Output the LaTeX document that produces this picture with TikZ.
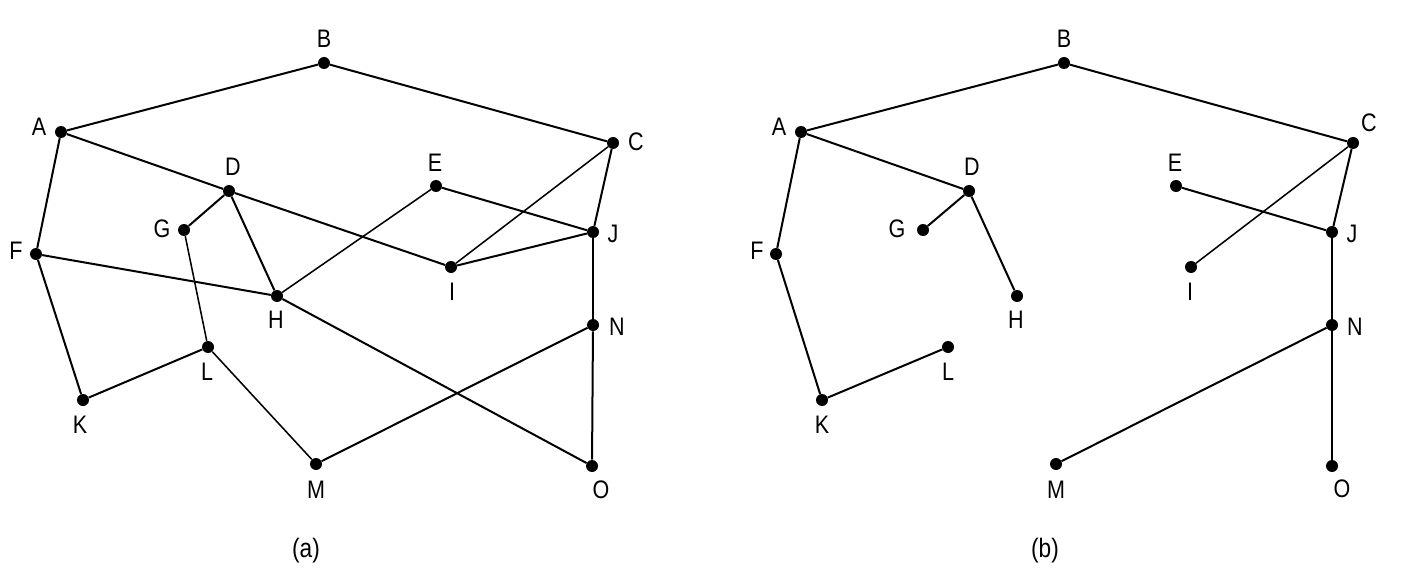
\documentclass[tikz,border=0pt]{standalone}
\usepackage{fontspec}
\setmainfont{Liberation Sans}[FakeStretch=0.85]
\begin{document}
\begin{tikzpicture}[x=0.75pt,y=-0.75pt,
  dot/.style={circle,fill=black,inner sep=0pt,minimum size=9pt},
  lbl/.style={inner sep=0pt,font=\fontsize{19}{21}\selectfont},
  captxt/.style={inner sep=0pt,font=\fontsize{20}{22}\selectfont},
  edge/.style={line width=1.5pt},
  thin edge/.style={line width=1.15pt}]
\useasboundingbox (0,0) rectangle (1420,588);
\fill[white] (0,0) rectangle (1420,588);
% ---------- (a) ----------
\foreach \n/\x/\y/\lx/\ly in {A/61/132/39/127, B/324/63/324/39, C/613/143/636/142,
  D/229/191/233/167, E/436/186/435/163, G/184/230/162/229, J/593/232/613/234,
  F/36/254/16/251, I/451/267/452/292, H/277/296/276/320, N/593/325/617/327,
  L/208/347/207/372, K/83/400/80/425, M/316/464/316/490, O/592/466/601/490}
{
  \node[dot] (a\n) at (\x,\y) {};
  \node[lbl] (la\n) at (\lx,\ly) {\n};
}
\foreach \u/\v in {A/B, B/C, A/F, A/D, D/I, D/G, D/H, F/H, F/K, K/L, H/O, E/J, C/J, I/J, J/N, N/O, N/M}
  \draw[edge] (a\u) -- (a\v);
\foreach \u/\v in {G/L, L/M, H/E, C/I}
  \draw[thin edge] (a\u) -- (a\v);
\node[captxt] (capa) at (306,551) {(a)};
% ---------- (b) ----------
\foreach \n/\x/\y/\lx/\ly in {A/801/132/779/127, B/1064/63/1064/39, C/1353/143/1369/123,
  D/969/191/972/167, E/1176/186/1175/163, G/923/230/897/229, J/1332/232/1352/234,
  F/776/254/757/251, I/1191/267/1190/292, H/1017/296/1016/320, N/1332/325/1355/327,
  L/948/347/948/372, K/822/400/822/425, M/1056/464/1056/490, O/1332/466/1342/489}
{
  \node[dot] (b\n) at (\x,\y) {};
  \node[lbl] (lb\n) at (\lx,\ly) {\n};
}
\foreach \u/\v in {A/B, B/C, A/F, A/D, D/G, D/H, F/K, K/L, E/J, C/J, J/N, N/O, N/M}
  \draw[edge] (b\u) -- (b\v);
\foreach \u/\v in {C/I}
  \draw[thin edge] (b\u) -- (b\v);
\node[captxt] (capb) at (1045,551) {(b)};
\end{tikzpicture}
\end{document}
